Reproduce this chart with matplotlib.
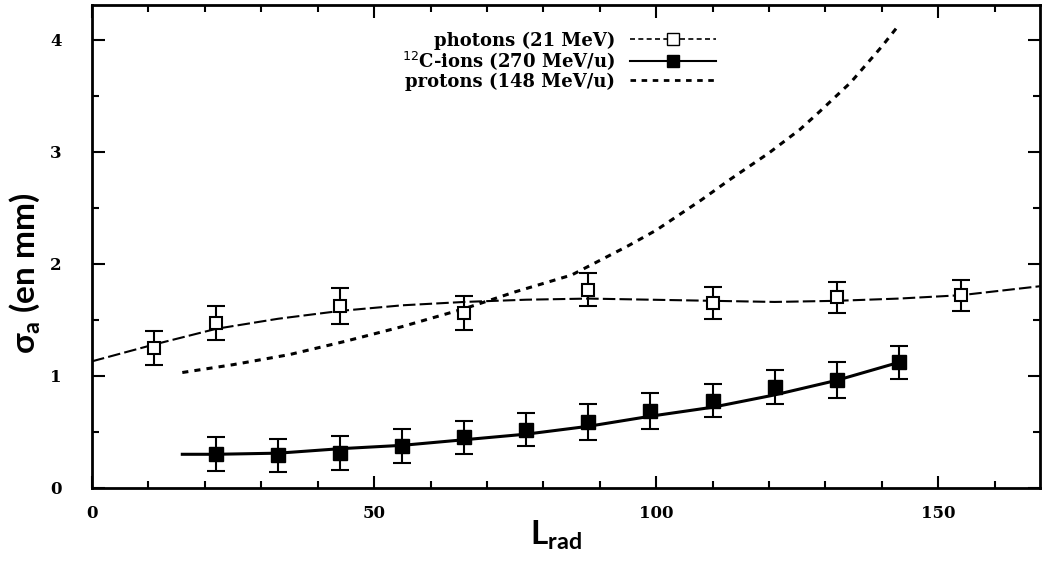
import numpy as np
import matplotlib.pyplot as plt
from matplotlib.lines import Line2D
from matplotlib.ticker import MultipleLocator

# photons (21 MeV) : points mesures + courbe ajustee
ph_x = [11, 22, 44, 66, 88, 110, 132, 154]
ph_y = [1.25, 1.47, 1.62, 1.56, 1.77, 1.65, 1.70, 1.72]
ph_err = [0.15, 0.15, 0.16, 0.15, 0.15, 0.14, 0.14, 0.14]
ph_fit_x = [0, 11, 22, 33, 44, 55, 66, 77, 88, 99, 110, 121, 132, 143, 154, 168]
ph_fit_y = [1.13, 1.28, 1.42, 1.51, 1.58, 1.63, 1.66, 1.68, 1.69, 1.68, 1.67, 1.66, 1.67, 1.69, 1.72, 1.80]

# ions 12C (270 MeV/u)
c_x = [22, 33, 44, 55, 66, 77, 88, 99, 110, 121, 132, 143]
c_y = [0.30, 0.29, 0.31, 0.375, 0.45, 0.52, 0.59, 0.69, 0.78, 0.90, 0.96, 1.12]
c_err = [0.15, 0.15, 0.15, 0.15, 0.15, 0.15, 0.16, 0.16, 0.15, 0.15, 0.16, 0.15]
c_fit_x = [16, 22, 33, 44, 55, 66, 77, 88, 99, 110, 121, 132, 143]
c_fit_y = [0.30, 0.30, 0.31, 0.35, 0.38, 0.43, 0.48, 0.55, 0.64, 0.72, 0.83, 0.96, 1.12]

# protons (148 MeV/u)
p_x = [16, 25, 35, 45, 55, 66, 75, 85, 95, 100, 108, 113, 120, 125.5, 129, 134.5, 140, 143]
p_y = [1.03, 1.10, 1.19, 1.31, 1.44, 1.60, 1.75, 1.90, 2.16, 2.30, 2.57, 2.75, 2.99, 3.20, 3.36, 3.62, 3.94, 4.13]

fig = plt.figure(figsize=(10.46, 5.66), dpi=100)
ax = fig.add_axes([0.088, 0.138, 0.906, 0.853])

ax.plot(ph_fit_x, ph_fit_y, color='black', lw=1.5, ls=(0, (6, 2)))
ax.errorbar(ph_x, ph_y, yerr=ph_err, fmt='s', mfc='white', mec='black', ms=9,
            mew=1.5, ecolor='black', elinewidth=1.5, capsize=6.5, capthick=1.5)

ax.plot(c_fit_x, c_fit_y, color='black', lw=2.2)
ax.errorbar(c_x, c_y, yerr=c_err, fmt='s', color='black', ms=9.5,
            ecolor='black', elinewidth=1.5, capsize=6.5, capthick=1.5)

ax.plot(p_x, p_y, color='black', lw=2.2, ls=(0, (2, 2)))

ax.set_xlim(0, 168)
ax.set_ylim(0, 4.31)
ax.xaxis.set_major_locator(MultipleLocator(50))
ax.xaxis.set_minor_locator(MultipleLocator(10))
ax.yaxis.set_major_locator(MultipleLocator(1))
ax.yaxis.set_minor_locator(MultipleLocator(0.5))
ax.tick_params(which='both', direction='in', top=True, right=True, width=1.5)
ax.tick_params(which='major', length=9)
ax.tick_params(which='minor', length=5)
ax.tick_params(axis='y', pad=22)
ax.tick_params(axis='x', pad=12)
for lab in ax.get_xticklabels() + ax.get_yticklabels():
    lab.set_fontfamily('DejaVu Serif')
    lab.set_fontweight('bold')
    lab.set_fontsize(12)
for s in ax.spines.values():
    s.set_linewidth(2)

ax.set_xlabel('L$_{\\mathregular{rad}}$', fontsize=24, fontweight='bold', family='Lato')
ax.set_ylabel('σ$_{\\mathregular{a}}$ (en mm)', fontsize=24, fontweight='bold', family='Lato')
ax.xaxis.set_label_coords(0.49, -0.062)
ax.yaxis.set_label_coords(-0.052, 0.445)

handles = [
    Line2D([], [], color='black', lw=1.2, ls=(0, (3, 2)), marker='s', mfc='white', mec='black', ms=8),
    Line2D([], [], color='black', lw=1.5, marker='s', ms=8),
    Line2D([], [], color='black', lw=2, ls=(0, (2, 2))),
]
labels = ['photons (21 MeV)', '$^{12}$C-ions (270 MeV/u)', 'protons (148 MeV/u)']
ax.legend(handles, labels, loc='upper right', bbox_to_anchor=(0.672, 0.972), frameon=False,
          markerfirst=False, handlelength=4.8, handletextpad=0.8, labelspacing=0.0, borderpad=0.2,
          prop={'family': 'DejaVu Serif', 'weight': 'bold', 'size': 13})

plt.savefig('out.png', dpi=100)
